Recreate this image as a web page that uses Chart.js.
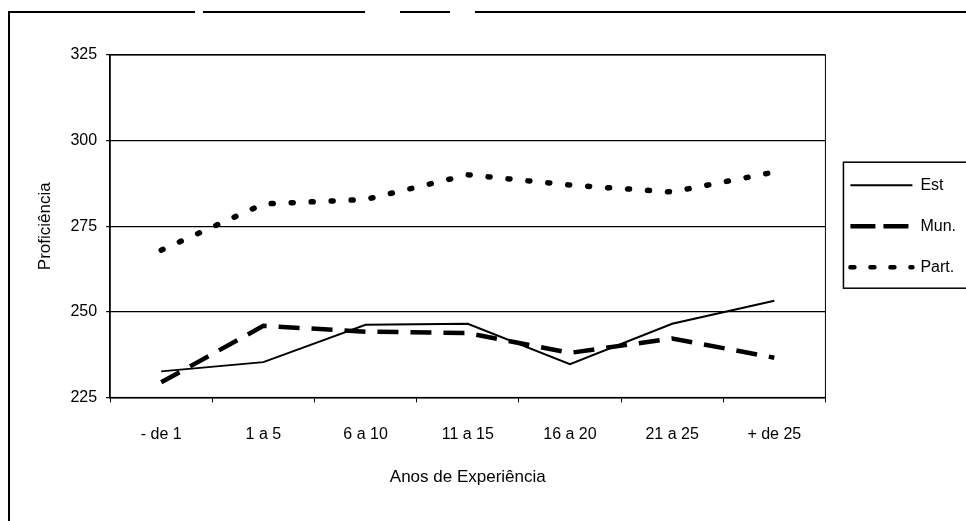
<!DOCTYPE html>
<html lang="pt">
<head>
<meta charset="UTF-8">
<title>Proficiência por Anos de Experiência</title>
<script src="https://cdn.jsdelivr.net/npm/chart.js@4.4.1/dist/chart.umd.min.js"></script>
<style>
  html, body { margin: 0; padding: 0; background: #fff; }
  #wrap { width: 966px; height: 521px; position: relative; }
</style>
</head>
<body>
<div id="wrap"><canvas id="grafico" width="966" height="521"></canvas></div>
<script>
// categorias e series
var anos = ["- de 1", "1 a 5", "6 a 10", "11 a 15", "16 a 20", "21 a 25", "+ de 25"];
var est  = [232.6, 235.3, 246.2, 246.5, 234.7, 246.5, 253.2];
var mun  = [229.4, 245.9, 244.2, 243.8, 238.0, 242.2, 236.6];
var part = [268.0, 281.5, 282.8, 290.0, 287.0, 285.0, 290.8];
var yTicks = [225, 250, 275, 300, 325];

var fonte = "'Liberation Sans Narrow', 'Liberation Sans', Arial, sans-serif";

// moldura da area do grafico, quadro externo e caixa da legenda
var molduras = {
  id: "molduras",
  beforeDatasetsDraw: function (chart) {
    var a = chart.chartArea, c = chart.ctx;
    c.save();
    c.strokeStyle = "#000";
    c.lineWidth = 1;
    c.strokeRect(a.left, a.top, a.right - a.left, a.bottom - a.top);
    c.restore();
  },
  afterDraw: function (chart) {
    var c = chart.ctx, hb = chart.legend.legendHitBoxes;
    c.save();
    c.strokeStyle = "#000";
    c.lineWidth = 2;
    c.beginPath();
    c.moveTo(9, 521);
    c.lineTo(9, 12);
    c.lineTo(195, 12);
    c.moveTo(203, 12);
    c.lineTo(365, 12);
    c.moveTo(400, 12);
    c.lineTo(450, 12);
    c.moveTo(475, 12);
    c.lineTo(966, 12);
    c.stroke();
    c.lineWidth = 1.5;
    var l = hb[0].left - 7, t = hb[0].top - 15;
    var b = hb[hb.length - 1].top + hb[hb.length - 1].height + 13;
    c.strokeRect(l, t, 980 - l, b - t);
    c.restore();
  }
};

new Chart(document.getElementById("grafico"), {
  type: "line",
  data: {
    labels: anos,
    datasets: [
      { label: "Est", data: est, borderColor: "#000", borderWidth: 2,
        pointRadius: 0, fill: false, tension: 0 },
      { label: "Mun.", data: mun, borderColor: "#000", borderWidth: 4.5,
        borderDash: [21, 12], pointRadius: 0, fill: false, tension: 0 },
      { label: "Part.", data: part, borderColor: "#000", borderWidth: 5.5,
        borderDash: [2, 18], borderCapStyle: "round", pointRadius: 0, fill: false, tension: 0 }
    ]
  },
  options: {
    responsive: false,
    animation: false,
    layout: { padding: { left: 31, top: 55, right: 0, bottom: 29 } },
    plugins: {
      tooltip: { enabled: false },
      legend: {
        position: "right",
        fullSize: false,
        labels: {
          color: "#000",
          font: { family: fonte, size: 16 },
          boxWidth: 62,
          boxHeight: 0,
          padding: 25,
          generateLabels: function (chart) {
            return chart.data.datasets.map(function (ds, i) {
              return {
                text: ds.label,
                fillStyle: "rgba(0,0,0,0)",
                strokeStyle: "#000",
                lineWidth: i === 0 ? 2 : 4.5,
                lineDash: ds.borderDash || [],
                lineCap: ds.borderCapStyle || "butt",
                fontColor: "#000",
                datasetIndex: i
              };
            });
          }
        }
      }
    },
    scales: {
      x: {
        type: "category",
        offset: true,
        grid: { display: true, drawOnChartArea: false, drawTicks: true, tickLength: 5,
                offset: true, color: "#000" },
        border: { display: true, color: "#000", width: 1.5 },
        ticks: { color: "#000", font: { family: fonte, size: 16 }, padding: 23, maxRotation: 0 },
        title: { display: true, text: "Anos de Experiência", color: "#000",
                 font: { family: fonte, size: 17 }, padding: { top: 0 } }
      },
      y: {
        min: 225, max: 325,
        afterBuildTicks: function (axis) {
          axis.ticks = yTicks.map(function (v) { return { value: v }; });
        },
        grid: { display: true, color: "#000", lineWidth: 1.2, drawTicks: true, tickLength: 4 },
        border: { display: true, color: "#000", width: 1.5 },
        ticks: { color: "#000", font: { family: fonte, size: 16 }, padding: 9 },
        title: { display: true, text: "Proficiência", color: "#000",
                 font: { family: fonte, size: 17 }, padding: { bottom: 6 } }
      }
    }
  },
  plugins: [molduras]
});
</script>
</body>
</html>
